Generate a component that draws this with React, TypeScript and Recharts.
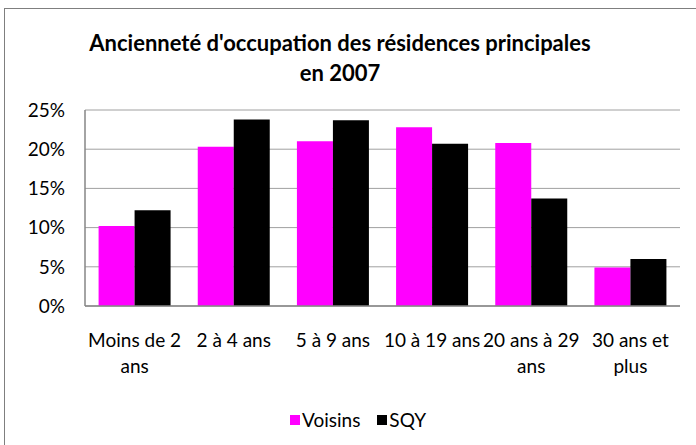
import React from 'react';
import { BarChart, Bar, XAxis, YAxis, CartesianGrid } from 'recharts';

const categories = ['Moins de 2 ans', '2 à 4 ans', '5 à 9 ans', '10 à 19 ans', '20 ans à 29 ans', '30 ans et plus'];
const voisins = [0.102, 0.203, 0.21, 0.228, 0.208, 0.049];
const sqy = [0.122, 0.238, 0.237, 0.207, 0.137, 0.06];
const yTicks = [0, 0.05, 0.1, 0.15, 0.2, 0.25];

const SERIES = [
    { key: 'voisins', name: 'Voisins', color: '#ff00ff' },
    { key: 'sqy', name: 'SQY', color: '#000000' },
];

const FONT = 'Lato, "Noto Sans", sans-serif';

const data = categories.map((c, i) => ({ name: c, voisins: voisins[i], sqy: sqy[i] }));

// greedy wrap, roughly like Excel does for narrow categories
const wrap = (label: string, max = 11) => {
    const lines: string[] = [];
    let cur = '';
    label.split(' ').forEach(w => {
        const next = cur ? cur + ' ' + w : w;
        if (next.length > max && cur) {
            lines.push(cur);
            cur = w;
        } else {
            cur = next;
        }
    });
    if (cur) lines.push(cur);
    return lines;
};

const CategoryTick = ({ x, y, payload }: any) => (
    <g transform={`translate(${x},${y})`}>
        {wrap(payload.value).map((line, i) => (
            <text key={i} x={0} y={41 + i * 26} textAnchor="middle" fontSize={19} fontFamily={FONT} fill="#000">
                {line}
            </text>
        ))}
    </g>
);

export default function App() {
    return (
        <div style={{ position: 'fixed', top: 0, left: 0, width: 696, height: 445, overflow: 'hidden', background: '#fff' }}>
            {/* chart area border */}
            <div style={{ position: 'absolute', left: 4, top: 8, width: 720, height: 470, border: '1px solid #7f7f7f' }} />

            <div
                style={{
                    position: 'absolute',
                    top: 28,
                    left: 0,
                    width: 680,
                    textAlign: 'center',
                    fontFamily: FONT,
                    fontWeight: 700,
                    fontSize: 22,
                    lineHeight: '30px',
                    color: '#000',
                }}
            >
                Ancienneté d'occupation des résidences principales
                <br />
                en 2007
            </div>

            <div style={{ position: 'absolute', top: 0, left: 0 }}>
                <BarChart
                    width={696}
                    height={445}
                    data={data}
                    margin={{ top: 110, right: 16, bottom: 79, left: 20 }}
                    barCategoryGap="13.7%"
                    barGap={0}
                >
                    <CartesianGrid vertical={false} stroke="#a0a0a0" strokeWidth={1} />
                    <XAxis
                        dataKey="name"
                        height={60}
                        interval={0}
                        tickLine={false}
                        tickSize={0}
                        tickMargin={0}
                        axisLine={{ stroke: '#868686', strokeWidth: 1.5 }}
                        tick={<CategoryTick />}
                    />
                    <YAxis
                        width={65}
                        domain={[0, 0.25]}
                        ticks={yTicks}
                        tickFormatter={(v: number) => `${Math.round(v * 100)}%`}
                        tickLine={false}
                        tickSize={0}
                        tickMargin={20}
                        axisLine={{ stroke: '#868686', strokeWidth: 1.5 }}
                        tick={{ fontSize: 19, fontFamily: FONT, fill: '#000' }}
                    />
                    {SERIES.map(s => (
                        <Bar key={s.key} dataKey={s.key} name={s.name} fill={s.color} isAnimationActive={false} />
                    ))}
                </BarChart>
            </div>

            {/* legend */}
            <div
                style={{
                    position: 'absolute',
                    top: 408,
                    left: 0,
                    width: 716,
                    display: 'flex',
                    justifyContent: 'center',
                    gap: 17,
                    fontFamily: FONT,
                    fontSize: 19,
                    lineHeight: '24px',
                    color: '#000',
                }}
            >
                {SERIES.map(s => (
                    <div key={s.key} style={{ display: 'flex', alignItems: 'center', gap: 2 }}>
                        <span style={{ width: 10, height: 10, background: s.color, display: 'inline-block' }} />
                        <span>{s.name}</span>
                    </div>
                ))}
            </div>
        </div>
    );
}
